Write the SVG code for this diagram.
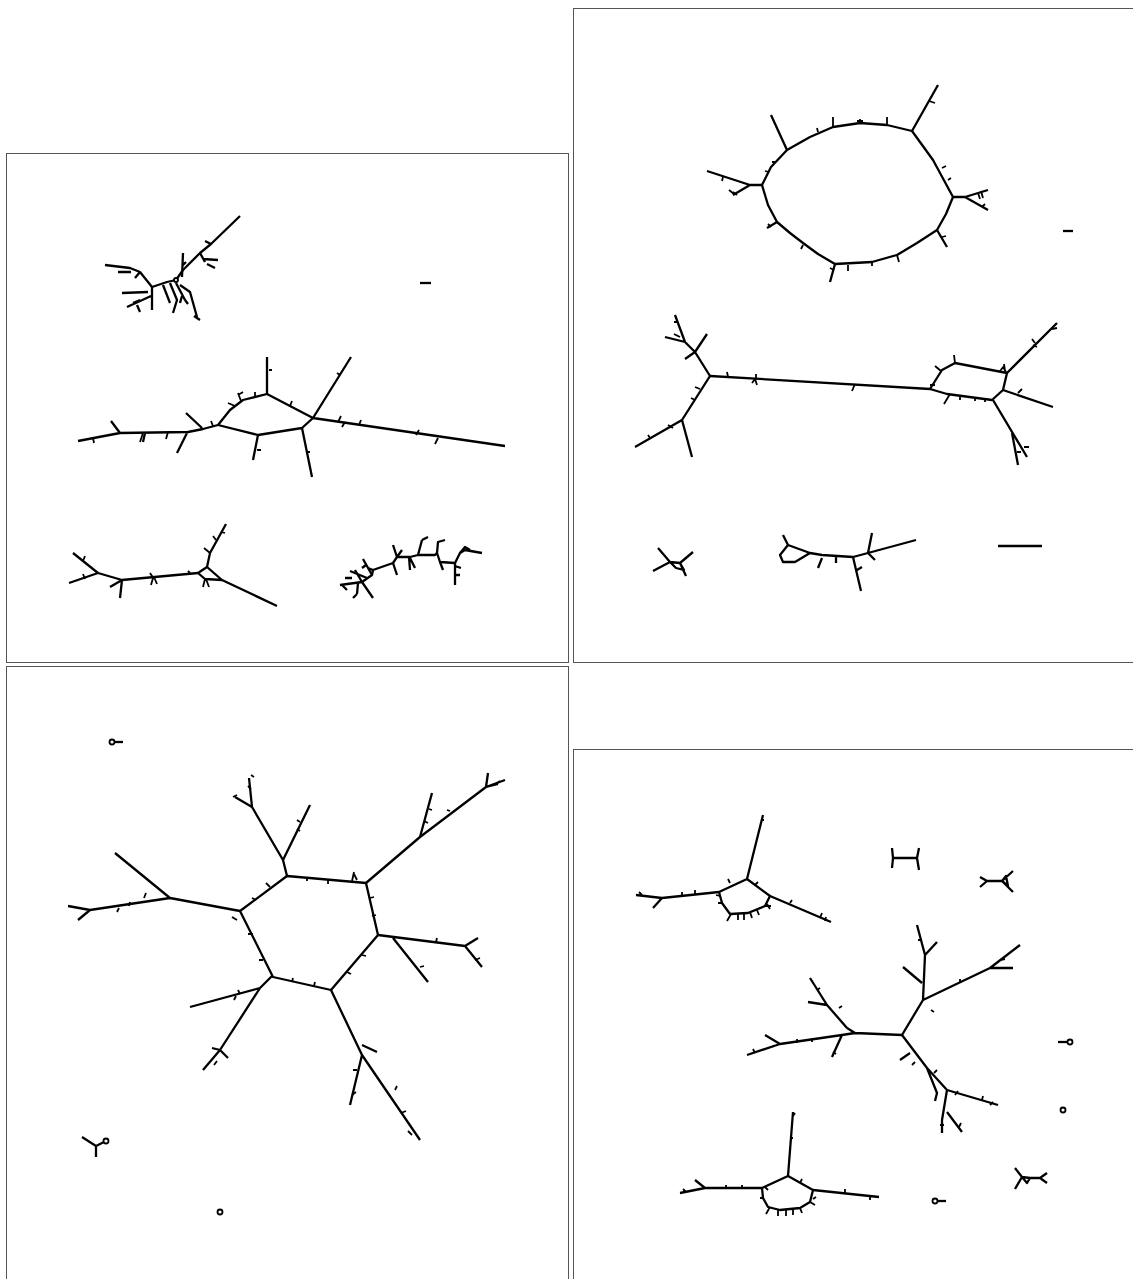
<svg xmlns="http://www.w3.org/2000/svg" width="1133" height="1279" viewBox="0 0 1133 1279">
<style>
.frame{fill:none;stroke:#555;stroke-width:1}
.e{fill:none;stroke:#000;stroke-width:2.3;stroke-linejoin:round;stroke-linecap:butt}
.t{fill:none;stroke:#000;stroke-width:1.8}
.c{fill:#fff;stroke:#000;stroke-width:1.8}
</style>
<rect width="1133" height="1279" fill="#fff"/>
<g id="panels">
<rect class="frame" x="6.5" y="153.5" width="562" height="509"/>
<rect class="frame" x="573.5" y="8.5" width="562" height="654"/>
<rect class="frame" x="6.5" y="666.5" width="562" height="620"/>
<rect class="frame" x="573.5" y="749.5" width="562" height="540"/>
</g>
<g id="connectors">
<g id="p1-tree-a">
<path class="e" d="M240,216 L211,244 L200,253 L183,270 L176,280 L167,282 L152,287"/>
<path class="e" d="M200,253 L205,262 M203,259 L218,260 M207,264 L215,268 M211,244 L205,241"/>
<path class="e" d="M183,253 L182,277 M182,266 L186,262"/>
<path class="e" d="M152,287 L140,272 L130,268 L105,265 M131,272 L118,272 M140,272 L135,278"/>
<path class="e" d="M152,287 L152,310 M151,296 L127,307 M148,292 L122,293 M140,300 L133,303 M137,305 L140,312"/>
<path class="e" d="M163,285 L170,303 M170,283 L177,300 L173,313 M180,285 L190,292 L197,317 M194,316 L200,320 M176,283 L185,300 M182,296 L180,303 M185,300 L188,304"/>
<circle class="c" cx="176" cy="280" r="2"/>
</g>
<path class="e" id="p1-dash" d="M420,283 L431,283"/>
<g id="p1-tree-b">
<path class="e" d="M218,425 L230,410 L243,400 L267,394 L313,418 L302,428 L258,435 Z"/>
<path class="e" d="M267,394 L267,357 M313,418 L351,357 M313,418 L505,446 M302,428 L312,477 M258,435 L253,460"/>
<path class="e" d="M218,425 L203,429 L188,432 L120,433 L78,441 M187,433 L177,453 M202,428 L186,413 M120,433 L111,421 M145,433 L143,442"/>
<path class="t" d="M93,438 l1,5 M143,433 l-3,9 M168,432 l-2,7 M213,426 l-2,-5 M235,406 l-7,-3 M241,401 l-3,-8 M238,395 l5,-3 M255,397 l0,-5 M290,406 l2,-5 M338,422 l3,-6 M345,422 l-3,5 M359,425 l2,-5 M416,435 l3,-5 M438,438 l-3,6 M269,370 l3,0 M340,375 l-3,-2 M261,450 l-4,0 M307,452 l3,0"/>
</g>
<g id="p1-tree-c">
<path class="e" d="M198,573 L207,567 L222,580 L205,579 Z"/>
<path class="e" d="M207,567 L210,553 L226,524 M222,580 L277,606"/>
<path class="e" d="M198,573 L122,580 L98,573 L73,553 M98,573 L69,583 M122,580 L120,598 M122,580 L110,587"/>
<path class="t" d="M210,553 l-6,-5 M216,540 l-3,-4 M221,532 l4,1 M153,578 l-2,7 M154,577 l3,7 M150,573 l4,6 M83,561 l2,-5 M85,579 l-2,-5 M205,579 l-2,8 M206,579 l3,8 M190,573 l-2,-2"/>
</g>
<g id="p1-tree-d">
<path class="e" d="M340,585 L362,582 L372,575 L373,570 L393,563 L397,557 L410,557 L418,555 L435,555 L437,553 L440,562 L455,563 L460,553 L465,550 L482,553"/>
<path class="e" d="M362,582 L355,570 M362,582 L373,598 M367,578 L350,571 M372,575 L363,559 M366,565 L362,568 M373,570 L368,568"/>
<path class="e" d="M393,563 L397,575 M397,557 L393,545 M397,557 L402,550 M409,557 L410,570 M410,558 L415,568 M418,555 L422,540 M422,540 L428,537 M437,553 L438,542 L445,540 M440,562 L443,570 M455,563 L455,585 M455,566 L461,568 M455,575 L460,575 M460,553 L465,547 L470,550 M345,578 L352,578 M358,583 L357,594 M357,594 L353,598 M342,585 L347,590"/>
</g>
<g id="p2-cycle">
<path class="e" d="M762,185 L771,167 L787,150 L810,137 L833,127 L860,123 L887,125 L912,131 L933,160 L953,197 L946,214 L937,230 L917,243 L897,255 L872,262 L835,264 L818,254 L803,243 L790,233 L777,222 L768,205 Z"/>
<path class="e" d="M912,131 L938,85 M787,150 L771,115 M762,185 L750,185 L707,171 M750,185 L733,195 M953,197 L965,197 L988,190 M965,197 L988,210 M937,230 L947,247 M835,264 L830,282 M777,222 L767,228"/>
<path class="t" d="M833,127 l0,-10 M860,123 l0,-4 M857,121 l6,0 M887,125 l0,-8 M818,132 l-1,-4 M776,162 l-4,0 M769,172 l-4,-1 M942,168 l4,-2 M948,180 l3,-2 M897,255 l2,7 M872,262 l0,4 M848,265 l0,6 M803,245 l-2,4 M733,192 l4,3 M729,190 l5,4 M722,181 l1,-4 M929,101 l6,2 M978,193 l2,6 M981,191 l2,7 M942,237 l4,-1 M771,227 l-3,-3 M834,270 l-4,-2 M982,207 l3,-3"/>
</g>
<path class="e" id="p2-dash" d="M1063,231 L1073,231"/>
<g id="p2-bridge">
<path class="e" d="M710,376 L930,389"/>
<path class="e" d="M930,389 L942,370 L955,363 L1007,373 L1003,390 L992,400 L947,394 Z"/>
<path class="e" d="M1007,373 L1057,323 M1003,390 L1053,407 M993,400 L1027,457 M1012,433 L1018,465"/>
<path class="e" d="M710,376 L695,352 L685,342 L675,315 M695,352 L707,334 M695,352 L685,359 M685,342 L665,337"/>
<path class="e" d="M710,376 L682,420 L635,447 M682,420 L692,457"/>
<path class="t" d="M728,377 l-1,-5 M755,379 l-3,4 M755,379 l2,6 M756,380 l0,-6 M855,384 l-3,7 M935,385 l-5,0 M941,371 l-6,-5 M955,363 l-1,-8 M1000,371 l4,-5 M1006,372 l-3,-5 M1005,371 l-1,-7 M950,394 l-6,10 M960,395 l0,5 M975,397 l0,4 M985,398 l0,4 M1018,393 l4,-4 M1033,345 l4,2 M1035,343 l-3,-4 M1052,329 l5,-1 M1024,447 l5,0 M695,400 l-4,-2 M700,389 l-5,-2 M650,438 l-2,-3 M668,425 l5,3 M678,322 l-4,0 M680,337 l-6,-3 M1017,452 l4,0"/>
</g>
<g id="p2-small-x">
<path class="e" d="M658,548 L670,562 L653,571 M670,562 L680,563 L693,552 M680,563 L686,576 M670,562 L676,568 L684,570 L680,563"/>
</g>
<g id="p2-loop">
<path class="e" d="M783,535 L788,545 L810,553 L822,555 L853,557 L868,553 L916,540 M810,553 L795,562 L783,562 L780,555 L788,545 M853,557 L861,591 M868,553 L872,533 M868,553 L875,560 M822,558 L818,568 M836,556 L836,563 M857,570 L862,567"/>
</g>
<path class="e" id="p2-line" d="M998,546 L1042,546"/>
<g id="p3-hexagon">
<path class="e" d="M287,876 L366,883 L378,935 L331,990 L273,977 L240,911 Z"/>
<path class="e" d="M366,883 L420,837 L486,787 L505,780 M420,837 L432,793 M486,787 L488,773 M486,787 L498,784"/>
<path class="e" d="M287,876 L283,860 L252,807 L249,778 M252,807 L235,797 M283,860 L310,805"/>
<path class="e" d="M240,911 L170,898 L90,910 L68,906 M170,898 L115,853 M90,910 L78,920"/>
<path class="e" d="M378,935 L465,946 L482,967 M465,946 L478,938 M393,938 L428,982"/>
<path class="e" d="M272,976 L260,988 L190,1007 M260,988 L220,1050 L203,1070 M220,1050 L228,1058 M220,1050 L212,1048"/>
<path class="e" d="M331,990 L362,1055 L420,1140 M362,1055 L350,1105 M362,1045 L377,1052"/>
<path class="t" d="M307,877 l0,4 M328,879 l0,5 M352,881 l2,-9 M357,880 l-3,-6 M370,898 l4,-1 M372,916 l4,-1 M347,972 l4,2 M362,955 l4,1 M314,986 l1,-4 M292,982 l1,-4 M263,960 l-4,0 M253,934 l-5,0 M256,900 l-4,-2 M270,887 l-4,-4 M117,912 l2,-4 M129,906 l1,-4 M144,898 l2,-5 M237,920 l-5,-3 M233,797 l4,-2 M254,777 l-3,-2 M248,786 l3,3 M297,829 l3,2 M300,822 l-3,-2 M429,809 l3,1 M428,823 l-4,-2 M447,810 l3,1 M496,784 l4,-3 M436,942 l1,-4 M475,960 l5,-2 M424,966 l-4,1 M234,1000 l2,-4 M240,994 l-2,-4 M214,1065 l3,-4 M357,1070 l-4,0 M352,1095 l4,-3 M401,1113 l5,-2 M412,1135 l-4,-4 M395,1090 l2,-4"/>
</g>
<g id="p3-dot-a">
<circle class="c" cx="112" cy="742" r="2.5"/>
<path class="e" d="M115,742 L123,742"/>
</g>
<g id="p3-y">
<path class="e" d="M82,1137 L96,1146 L104,1142 M96,1146 L96,1157"/>
<circle class="c" cx="106" cy="1141" r="2.5"/>
</g>
<circle class="c" id="p3-dot-b" cx="220" cy="1212" r="2.5"/>
<g id="p4-tree-i">
<path class="e" d="M719,892 L747,879 L770,896 L765,906 L748,913 L730,914 L722,903 Z"/>
<path class="e" d="M747,879 L763,815 M770,896 L831,922 M719,892 L662,898 L636,895 M662,898 L653,908"/>
<path class="t" d="M731,914 l-4,7 M738,914 l0,6 M744,914 l0,6 M750,912 l2,6 M757,910 l2,5 M765,906 l6,0 M767,904 l3,5 M722,903 l-4,0 M720,896 l-4,-1 M730,883 l-2,-4 M755,885 l3,-3 M790,903 l2,-3 M820,918 l2,-5 M825,921 l1,-4 M682,896 l0,-4 M695,894 l0,-4 M761,820 l3,0 M642,895 l-3,-3"/>
</g>
<g id="p4-h">
<path class="e" d="M892,848 L893,858 L892,868 M893,858 L917,858 M917,858 L919,848 M917,858 L919,870"/>
</g>
<g id="p4-tri">
<path class="e" d="M980,877 L987,881 L1002,881 L1013,871 M1002,881 L1013,892 M980,887 L987,881 M1002,881 L1006,876 L1008,886 L1002,881"/>
</g>
<g id="p4-tree-j">
<path class="e" d="M902,1035 L855,1033 L847,1028 M855,1033 L842,1035 L780,1044 L747,1055 M847,1028 L827,1005 L810,978 M827,1005 L808,1002 M842,1035 L832,1057 M780,1044 L765,1035"/>
<path class="e" d="M902,1035 L923,1000 L990,968 L1020,945 M990,968 L1013,968 M923,1000 L925,955 L917,925 M925,955 L937,942 M922,983 L903,967"/>
<path class="e" d="M902,1035 L927,1068 L947,1090 L998,1105 M947,1090 L942,1120 L942,1133 M947,1112 L962,1132 M927,1068 L937,1093 L935,1101 M910,1053 L900,1060"/>
<path class="t" d="M797,1039 l0,4 M812,1038 l0,4 M755,1053 l-2,-4 M817,990 l3,-2 M839,1008 l3,-2 M833,1052 l3,2 M960,983 l0,-4 M1000,960 l5,-1 M918,940 l3,0 M934,1012 l-3,-2 M915,1062 l-3,3 M934,1073 l3,-3 M955,1095 l3,-4 M982,1100 l1,-4 M990,1105 l3,-3 M944,1125 l-4,0 M959,1127 l2,-4"/>
</g>
<g id="p4-tree-k">
<path class="e" d="M762,1188 L788,1176 L813,1190 L810,1202 L800,1208 L780,1210 L768,1207 L763,1198 Z"/>
<path class="e" d="M788,1176 L793,1112 M813,1190 L879,1197 M762,1188 L705,1188 L680,1193 M705,1188 L695,1180"/>
<path class="t" d="M770,1207 l-4,7 M778,1210 l0,6 M786,1210 l0,6 M793,1209 l0,6 M800,1208 l2,5 M810,1202 l5,3 M813,1199 l3,-2 M768,1190 l-3,-3 M800,1183 l2,-4 M764,1198 l-4,0 M726,1188 l0,-3 M742,1188 l0,-3 M870,1196 l0,4 M845,1193 l0,-4 M686,1192 l-3,-3 M793,1138 l-3,0 M793,1116 l2,-3"/>
</g>
<g id="p4-dot-a">
<path class="e" d="M1058,1042 L1067,1042"/>
<circle class="c" cx="1070" cy="1042" r="2.5"/>
</g>
<circle class="c" id="p4-dot-b" cx="1063" cy="1110" r="2.5"/>
<g id="p4-dot-c">
<circle class="c" cx="935" cy="1201" r="2.5"/>
<path class="e" d="M938,1201 L946,1201"/>
</g>
<g id="p4-tri-b">
<path class="e" d="M1015,1168 L1022,1177 L1030,1178 L1040,1178 L1047,1173 M1040,1178 L1047,1183 M1022,1177 L1015,1189 M1022,1177 L1027,1183 L1030,1178"/>
</g>
</g>
</svg>
